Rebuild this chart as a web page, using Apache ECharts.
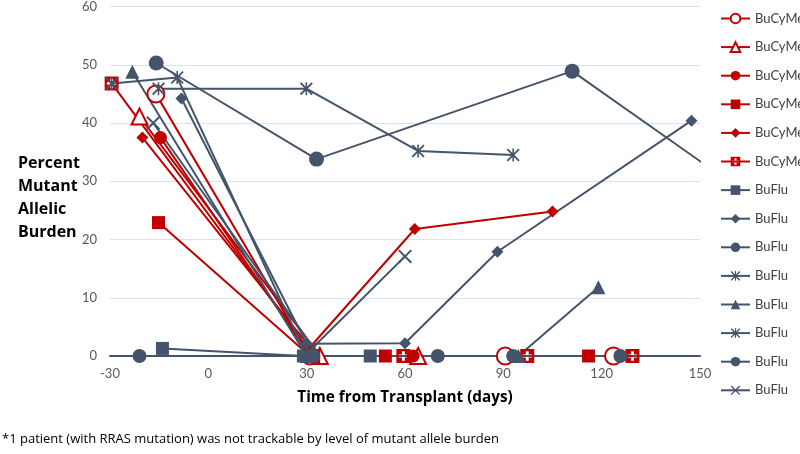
<!DOCTYPE html>
<html><head><meta charset="utf-8">
<script src="https://cdn.jsdelivr.net/npm/echarts@6/dist/echarts.min.js"></script>
<style>html,body{margin:0;padding:0;background:#fff}#c{width:800px;height:454px}</style>
</head><body><div id="c"></div>
<script>
// ---- data ----
const xTicks = [-30, 0, 30, 60, 90, 120, 150];
const yTicks = [0, 10, 20, 30, 40, 50, 60];
const seriesNames = ['BuCyMel','BuCyMel','BuCyMel','BuCyMel','BuCyMel','BuCyMel','BuFlu','BuFlu','BuFlu','BuFlu','BuFlu','BuFlu','BuFlu','BuFlu'];
// BuCyMel
const bcmCircleOpen   = [[-16,45],[31,0],[90.6,0],[123.6,0]];
const bcmTriangleOpen = [[-21,41.1],[34,0],[64,0]];
const bcmCircle       = [[-14.6,37.5],[31,0],[62.5,0]];
const bcmSquare       = [[-15.2,22.9],[31,0],[54,0],[116,0]];
const bcmDiamond      = [[-20.1,37.5],[31,1.5],[63,21.8],[105,24.8]];
const bcmCrossSquare  = [[-29.5,46.8],[32,0],[59.5,0],[97.3,0],[129.4,0]];
// BuFlu
const bfSquare   = [[-14,1.3],[29,0],[49.4,0]];
const bfDiamond  = [[-8.2,44.2],[30,2.1],[60,2.2],[88.2,17.9],[147.4,40.4]];
const bfCircle   = [[-15.9,50.3],[33,33.8],[111,48.9],[165,27.5]];
const bfStar1    = [[-29.5,46.8],[-9.5,47.8],[30,0]];
const bfTriangle = [[-23.2,48.8],[30,0],[94.6,0],[119,11.8]];
const bfStar2    = [[-15.2,45.9],[29.9,45.9],[64,35.2],[93,34.5]];
const bfCircle2  = [[-21,0],[32,0],[70,0],[93,0],[125.7,0]];
const bfX        = [[-16.8,40],[32,1.5],[60,17.1]];

const RED = '#C00000', GREY = '#44546A';
const crossSquare = 'path://M0,0L10,0L10,10L0,10Z M4,1.6L4,4L1.6,4L1.6,6L4,6L4,8.4L6,8.4L6,6L8.4,6L8.4,4L6,4L6,1.6Z';
const xShape = 'path://M1,0L10,9L9,10L0,1Z M9,0L10,1L1,10L0,9Z';
const starShape = 'path://M1,0L10,9L9,10L0,1Z M9,0L10,1L1,10L0,9Z M4.4,0L5.6,0L5.6,10L4.4,10Z';

function mk(data, color, symbol, size, hollow) {
  return {
    type: 'line', data, symbol, symbolSize: size, showSymbol: true,
    clip: true, animation: false,
    lineStyle: { color, width: 2 },
    itemStyle: hollow ? { color: '#fff', borderColor: color, borderWidth: 2 } : { color, borderColor: color, borderWidth: 0 },
    emphasis: { disabled: true }
  };
}
const series = [
  mk(bcmCircleOpen, RED, 'circle', 17, true),
  mk(bcmTriangleOpen, RED, 'triangle', 16, true),
  mk(bcmCircle, RED, 'circle', 13, false),
  mk(bcmSquare, RED, 'rect', 13, false),
  mk(bcmDiamond, RED, 'diamond', 12, false),
  mk(bcmCrossSquare, RED, crossSquare, 14, false),
  mk(bfSquare, GREY, 'rect', 13, false),
  mk(bfDiamond, GREY, 'diamond', 12, false),
  mk(bfCircle, GREY, 'circle', 15, false),
  mk(bfStar1, GREY, starShape, 13, false),
  mk(bfTriangle, GREY, 'triangle', 14, false),
  mk(bfStar2, GREY, starShape, 13, false),
  mk(bfCircle2, GREY, 'circle', 14, false),
  mk(bfX, GREY, xShape, 14, false)
];
series.forEach((s, i) => { s.name = 'k' + i; });

const chart = echarts.init(document.getElementById('c'), null, { renderer: 'canvas' });
chart.setOption({
  animation: false,
  backgroundColor: '#fff',
  grid: { left: 110, right: 100, top: 4, bottom: 98, containLabel: false },
  xAxis: {
    type: 'value', min: xTicks[0], max: xTicks[xTicks.length - 1], interval: 30,
    axisLine: { show: true, onZero: false, lineStyle: { color: GREY, width: 2 } },
    axisTick: { show: false }, splitLine: { show: false },
    axisLabel: { color: '#595959', fontSize: 13, fontFamily: 'Lato', margin: 11 }
  },
  yAxis: {
    type: 'value', min: yTicks[0], max: yTicks[yTicks.length - 1], interval: 10,
    axisLine: { show: false }, axisTick: { show: false },
    splitLine: { show: true, lineStyle: { color: '#D6E3F5', width: 1 } },
    axisLabel: { color: '#595959', fontSize: 13, fontFamily: 'Lato', margin: 13 }
  },
  legend: {
    orient: 'vertical', left: 720, top: 12, padding: 0, itemWidth: 29, itemHeight: 12, itemGap: 15.6,
    data: series.map(s => ({ name: s.name })),
    formatter: (n) => seriesNames[+n.slice(1)],
    textStyle: { color: '#404040', fontSize: 13, fontFamily: 'Lato', lineHeight: 12 },
    selectedMode: false
  },
  graphic: [
    { type: 'text', left: 18, top: 152, style: { text: 'Percent\nMutant\nAllelic\nBurden', font: 'bold 16px "Open Sans"', lineHeight: 23, fill: '#000' } },
    { type: 'text', x: 405, y: 398, style: { text: 'Time from Transplant (days)', font: 'bold 15.3px "Open Sans"', fill: '#000', align: 'center', verticalAlign: 'middle' } },
    { type: 'text', left: 2, top: 433, style: { text: '*1 patient (with RRAS mutation) was not trackable by level of mutant allele burden', font: '13px "Open Sans"', fill: '#000' } }
  ],
  series
});
</script></body></html>
